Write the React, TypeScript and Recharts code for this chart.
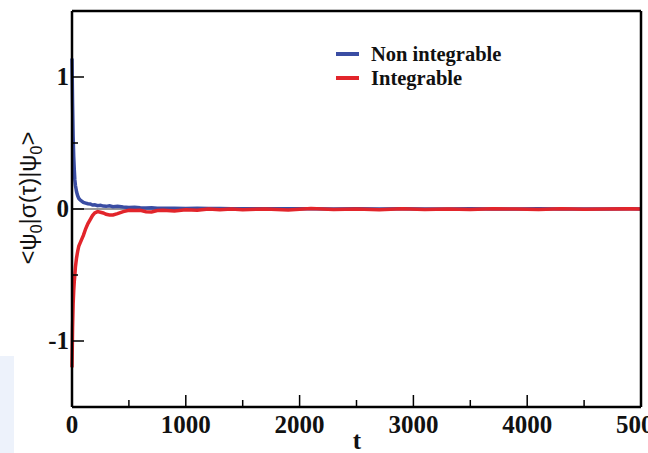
import React from 'react';
import { LineChart, Line, XAxis, YAxis, ReferenceLine, Legend } from 'recharts';

const times = [
  0, 5, 10, 15, 20, 25, 30, 40, 50, 60, 70, 85, 100, 120, 140, 160, 180, 200, 225, 250,
  275, 300, 330, 360, 400, 450, 500, 550, 600, 650, 700, 750, 800, 900, 1000, 1100, 1200,
  1300, 1400, 1500, 1700, 1900, 2100, 2300, 2500, 2700, 2900, 3100, 3300, 3500, 3700, 3900,
  4100, 4300, 4500, 4700, 4900, 5000,
];

const nonIntegrable = [
  1.14, 0.8, 0.55, 0.4, 0.3, 0.22, 0.18, 0.13, 0.1, 0.08, 0.07, 0.06, 0.05, 0.045, 0.04,
  0.038, 0.03, 0.032, 0.025, 0.028, 0.022, 0.02, 0.024, 0.018, 0.02, 0.015, 0.012, 0.014,
  0.01, 0.008, 0.01, 0.006, 0.005, 0.006, 0.004, 0.005, 0.003, 0.004, 0.002, 0.002, 0.001,
  0.002, 0.001, 0.0, 0.001, 0.0, 0.001, 0.0, 0.0, 0.001, 0.0, 0.0, 0.001, 0.0, 0.0, 0.0,
  0.001, 0.0,
];

const integrable = [
  -1.2, -0.9, -0.72, -0.62, -0.55, -0.5, -0.44, -0.37, -0.32, -0.28, -0.26, -0.23, -0.2,
  -0.15, -0.11, -0.08, -0.05, -0.03, -0.02, -0.025, -0.03, -0.04, -0.045, -0.045, -0.035,
  -0.02, -0.01, -0.012, -0.01, -0.02, -0.022, -0.012, -0.01, -0.015, -0.005, -0.01, 0.0,
  -0.005, 0.0, -0.005, 0.0, -0.008, 0.003, -0.004, 0.0, -0.006, 0.002, -0.003, 0.0, -0.004,
  0.002, 0.0, -0.003, 0.001, -0.002, 0.0, 0.002, 0.0,
];

const xTicks = [0, 500, 1000, 1500, 2000, 2500, 3000, 3500, 4000, 4500, 5000];
const yTicks = [-1, -0.5, 0, 0.5, 1];

const seriesNames = ['Non integrable', 'Integrable'];
const seriesColors = ['#3a4da3', '#e2252b'];

const data = times.map((t, i) => ({ t, nonInt: nonIntegrable[i], int: integrable[i] }));

const tickFont: React.CSSProperties = {
  fontFamily: '"Liberation Serif", serif',
  fontWeight: 700,
  fontSize: 25,
  fill: '#111',
};

const BottomTick = (props: any) => {
  const { x, y, payload } = props;
  const major = payload.value % 1000 === 0;
  const edge = payload.value === 0 || payload.value === 5000;
  return (
    <g>
      {!edge && <line x1={x} y1={y} x2={x} y2={y - (major ? 12 : 7)} stroke="#000" strokeWidth={1.5} />}
      {major && (
        <text x={x} y={y + 26} textAnchor="middle" style={tickFont}>
          {payload.value}
        </text>
      )}
    </g>
  );
};

const TopTick = (props: any) => {
  const { x, y, payload } = props;
  const major = payload.value % 1000 === 0;
  if (payload.value === 0 || payload.value === 5000) return <g />;
  return <line x1={x} y1={y} x2={x} y2={y + (major ? 12 : 7)} stroke="#000" strokeWidth={1.5} />;
};

const LeftTick = (props: any) => {
  const { x, y, payload } = props;
  const major = Number.isInteger(payload.value);
  return (
    <g>
      <line x1={x} y1={y} x2={x + (major ? 12 : 6)} y2={y} stroke="#000" strokeWidth={1.5} />
      {major && (
        <text x={x - 3} y={y + 8} textAnchor="end" style={tickFont}>
          {payload.value}
        </text>
      )}
    </g>
  );
};

const RightTick = (props: any) => {
  const { x, y, payload } = props;
  const major = Number.isInteger(payload.value);
  return <line x1={x} y1={y} x2={x - (major ? 12 : 6)} y2={y} stroke="#000" strokeWidth={1.5} />;
};

const YTitle = () => (
  <text
    transform="translate(36,198) rotate(-90)"
    textAnchor="middle"
    style={{ fontFamily: '"Liberation Sans", sans-serif', fontSize: 24, fill: '#111' }}
  >
    {'<ψ'}
    <tspan dy={6} fontSize={16}>0</tspan>
    <tspan dy={-6}>{'|σ(τ)|ψ'}</tspan>
    <tspan dy={6} fontSize={16}>0</tspan>
    <tspan dy={-6}>{'>'}</tspan>
  </text>
);

const XTitle = () => (
  <text x={357} y={449} textAnchor="middle" style={tickFont}>
    t
  </text>
);

const LegendBox = () => (
  <div style={{ position: 'absolute', left: 336, top: 42 }}>
    {seriesNames.map((name, i) => (
      <div key={name} style={{ display: 'flex', alignItems: 'center', height: 24 }}>
        <div style={{ width: 23, height: 4, background: seriesColors[i], marginRight: 12 }} />
        <span
          style={{
            fontFamily: '"Liberation Serif", serif',
            fontWeight: 700,
            fontSize: 20.5,
            color: '#111',
            whiteSpace: 'nowrap',
          }}
        >
          {name}
        </span>
      </div>
    ))}
  </div>
);

export default function App() {
  return (
    <div style={{ position: 'fixed', left: 0, top: 0, width: 648, height: 453, background: '#fff' }}>
      <div style={{ position: 'absolute', left: 0, top: 356, width: 14, height: 97, background: '#edf2fb' }} />
      <LineChart width={648} height={453} data={data} margin={{ top: 10, right: 6, bottom: 0, left: 0 }}>
        <XAxis
          xAxisId="b"
          dataKey="t"
          type="number"
          domain={[0, 5000]}
          ticks={xTicks}
          interval={0}
          height={46}
          tickSize={0}
          tickMargin={0}
          tickLine={false}
          axisLine={{ stroke: '#000', strokeWidth: 2.5 }}
          tick={<BottomTick />}
          label={<XTitle />}
        />
        <XAxis
          xAxisId="t"
          orientation="top"
          type="number"
          domain={[0, 5000]}
          ticks={xTicks}
          interval={0}
          height={1}
          tickSize={0}
          tickMargin={0}
          tickLine={false}
          axisLine={{ stroke: '#000', strokeWidth: 2.5 }}
          tick={<TopTick />}
        />
        <YAxis
          yAxisId="l"
          type="number"
          domain={[-1.5, 1.5]}
          ticks={yTicks}
          interval={0}
          width={72}
          tickSize={0}
          tickMargin={0}
          tickLine={false}
          axisLine={{ stroke: '#000', strokeWidth: 2.5 }}
          tick={<LeftTick />}
          label={<YTitle />}
        />
        <YAxis
          yAxisId="r"
          orientation="right"
          type="number"
          domain={[-1.5, 1.5]}
          ticks={yTicks}
          interval={0}
          width={1}
          tickSize={0}
          tickMargin={0}
          tickLine={false}
          axisLine={{ stroke: '#000', strokeWidth: 2.5 }}
          tick={<RightTick />}
        />
        <ReferenceLine xAxisId="b" yAxisId="l" y={0} stroke="#9a9a9a" strokeWidth={2} />
        <Legend
          layout="horizontal"
          verticalAlign="middle"
          align="center"
          wrapperStyle={{ left: 0, top: 0, width: 0, height: 0 }}
          content={() => <LegendBox />}
        />
        <Line
          xAxisId="b"
          yAxisId="l"
          dataKey="nonInt"
          type="linear"
          stroke={seriesColors[0]}
          strokeWidth={3.5}
          dot={false}
          isAnimationActive={false}
        />
        <Line
          xAxisId="b"
          yAxisId="l"
          dataKey="int"
          type="linear"
          stroke={seriesColors[1]}
          strokeWidth={3.5}
          dot={false}
          isAnimationActive={false}
        />
      </LineChart>
    </div>
  );
}
